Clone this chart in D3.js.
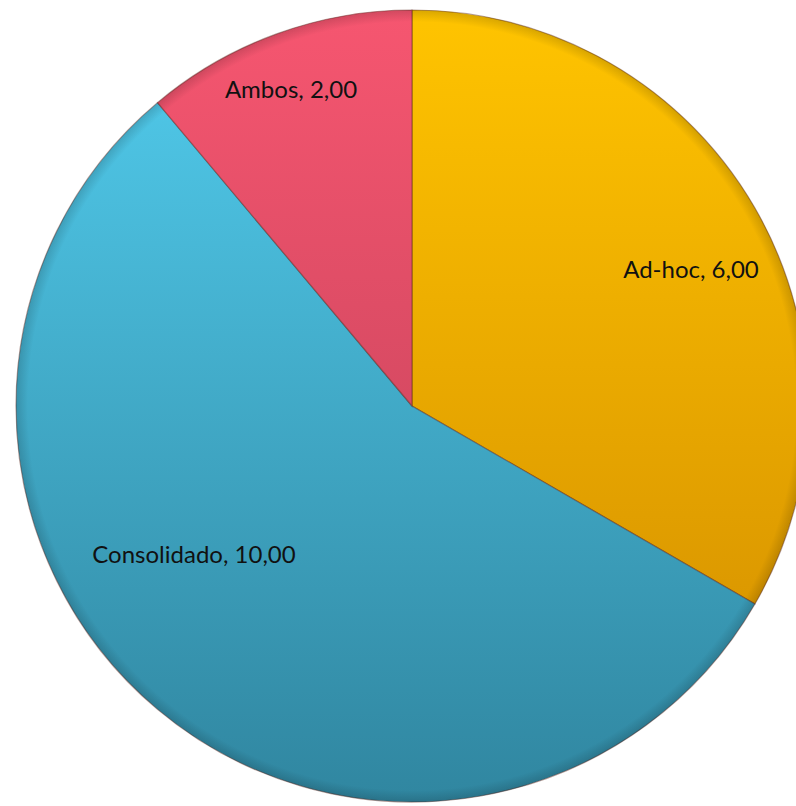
<!DOCTYPE html>
<html><head><meta charset="utf-8">
<script src="https://cdn.jsdelivr.net/npm/d3@7"></script>
<style>html,body{margin:0;padding:0;background:#fff;overflow:hidden}</style>
</head><body>
<svg id="c" width="796" height="806"></svg>
<script>
const categories = ["Ad-hoc", "Consolidado", "Ambos"];
const values = [6, 10, 2];
const labels = ["Ad-hoc, 6,00", "Consolidado, 10,00", "Ambos, 2,00"];
const colorsTop = ["#FFC400", "#52CDEE", "#F65670"];
const colorsBottom = ["#D08A00", "#3086A0", "#B83E55"];

const svg = d3.select("#c");
const cx = 412, cy = 406, r = 396;
const defs = svg.append("defs");
categories.forEach((c, i) => {
  const g = defs.append("linearGradient").attr("id", "g" + i)
    .attr("gradientUnits", "userSpaceOnUse")
    .attr("x1", 0).attr("y1", -r).attr("x2", 0).attr("y2", r);
  g.append("stop").attr("offset", "0%").attr("stop-color", colorsTop[i]);
  g.append("stop").attr("offset", "100%").attr("stop-color", colorsBottom[i]);
});
const rg = defs.append("radialGradient").attr("id", "edge")
  .attr("gradientUnits", "userSpaceOnUse").attr("cx", 0).attr("cy", 0).attr("r", r);
rg.append("stop").attr("offset", "97%").attr("stop-color", "#000").attr("stop-opacity", 0);
rg.append("stop").attr("offset", "100%").attr("stop-color", "#000").attr("stop-opacity", 0.15);

const pie = d3.pie().sort(null).value(d => d)(values);
const arc = d3.arc().innerRadius(0).outerRadius(r);
const g = svg.append("g").attr("transform", `translate(${cx},${cy})`);
g.selectAll("path.s").data(pie).join("path").attr("class", "s")
  .attr("d", arc)
  .attr("fill", (d, i) => `url(#g${i})`)
  .attr("stroke", "rgba(90,40,30,0.45)").attr("stroke-width", 1.2);
g.append("circle").attr("r", r).attr("fill", "url(#edge)");

const labelPos = [[279, -134], [-218, 151], [-121, -314]];
g.selectAll("text").data(pie).join("text")
  .attr("x", (d, i) => labelPos[i][0]).attr("y", (d, i) => labelPos[i][1])
  .attr("text-anchor", "middle").attr("dominant-baseline", "middle")
  .attr("font-family", "Lato, 'Open Sans', sans-serif").attr("font-size", 24)
  .attr("fill", "#111")
  .text((d, i) => labels[i]);
</script>
</body></html>
